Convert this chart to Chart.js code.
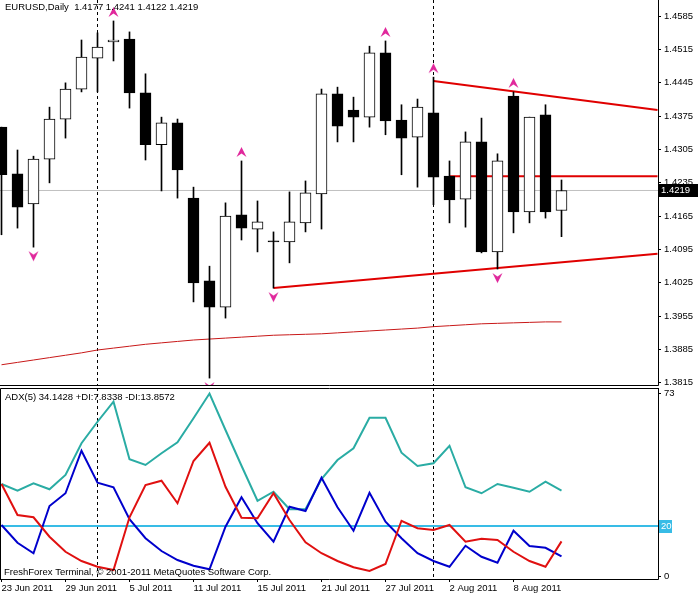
<!DOCTYPE html>
<html><head><meta charset="utf-8">
<script src="https://cdn.jsdelivr.net/npm/chart.js@4.4.0/dist/chart.umd.min.js"></script>
<style>
html,body{margin:0;padding:0;background:#fff;}
#wrap{position:relative;width:698px;height:597px;overflow:hidden;}
canvas{position:absolute;left:0;}
#main{top:0;}
#adx{top:387px;}
</style></head><body>
<div id="wrap"><canvas id="main" width="698" height="387"></canvas><canvas id="adx" width="698" height="210"></canvas></div>
<script>
// EURUSD daily bars
const dates=["23 Jun 2011","24 Jun 2011","27 Jun 2011","28 Jun 2011","29 Jun 2011","30 Jun 2011","1 Jul 2011","4 Jul 2011","5 Jul 2011","6 Jul 2011","7 Jul 2011","8 Jul 2011","11 Jul 2011","12 Jul 2011","13 Jul 2011","14 Jul 2011","15 Jul 2011","18 Jul 2011","19 Jul 2011","20 Jul 2011","21 Jul 2011","22 Jul 2011","25 Jul 2011","26 Jul 2011","27 Jul 2011","28 Jul 2011","29 Jul 2011","1 Aug 2011","2 Aug 2011","3 Aug 2011","4 Aug 2011","5 Aug 2011","8 Aug 2011","9 Aug 2011","10 Aug 2011","11 Aug 2011"];
const open=[1.4352,1.4254,1.4191,1.4285,1.4369,1.4432,1.4497,1.4531,1.4537,1.4424,1.4315,1.4361,1.4203,1.4029,1.3974,1.4168,1.4138,1.4111,1.4111,1.4151,1.4212,1.4422,1.4388,1.4373,1.4508,1.4367,1.4331,1.4382,1.4249,1.4201,1.4321,1.4090,1.4417,1.4174,1.4378,1.4177];
const high=[1.4352,1.4304,1.4291,1.4394,1.4445,1.4535,1.4550,1.4575,1.4552,1.4464,1.4373,1.4369,1.4226,1.4060,1.4193,1.4281,1.4197,1.4132,1.4216,1.4239,1.4432,1.4436,1.4415,1.4522,1.4533,1.4399,1.4411,1.4457,1.4281,1.4342,1.4371,1.4296,1.4426,1.4373,1.4399,1.4241];
const low=[1.4126,1.4140,1.4100,1.4235,1.4329,1.4426,1.4426,1.4491,1.4392,1.4283,1.4218,1.4203,1.3985,1.3825,1.3951,1.4115,1.4090,1.4014,1.4067,1.4132,1.4138,1.4321,1.4321,1.4352,1.4336,1.4252,1.4226,1.4189,1.4151,1.4142,1.4088,1.4054,1.4130,1.4151,1.4161,1.4122];
const close=[1.4252,1.4184,1.4285,1.4369,1.4432,1.4499,1.4520,1.4535,1.4424,1.4315,1.4361,1.4262,1.4025,1.3974,1.4165,1.4140,1.4153,1.4112,1.4153,1.4214,1.4422,1.4354,1.4373,1.4508,1.4365,1.4329,1.4394,1.4247,1.4199,1.4321,1.4090,1.4281,1.4174,1.4373,1.4174,1.4219];
const ma=[1.3853,1.3858,1.3863,1.3868,1.3873,1.3878,1.3884,1.3888,1.3892,1.3896,1.3899,1.3902,1.3905,1.3907,1.3909,1.3911,1.3913,1.3915,1.3916,1.3917,1.3918,1.3920,1.3922,1.3924,1.3926,1.3928,1.3930,1.3933,1.3935,1.3937,1.3939,1.3940,1.3941,1.3942,1.3943,1.3943];
const fractalUp=[7,15,24,27,32];
const fractalDown=[2,13,17,31];
const upperTrend=[[27,1.4449],[41,1.4388]];
const levelLine=[[28,1.4249],[41,1.4249]];
const lowerTrend=[[17,1.4014],[41,1.4086]];
const priceTicks=[1.3815,1.3885,1.3955,1.4025,1.4095,1.4165,1.4235,1.4305,1.4375,1.4445,1.4515,1.4585];
const sepIdx=[6,27];
const dateTicks=[0,4,8,12,16,20,24,28,32];

// ADX(5)
const adx=[36.8,34.1,37.1,34.7,40.4,53.1,61.7,69.7,46.7,44.4,49.1,53.5,63.1,73.0,58.4,44.1,30.1,33.7,26.7,26.7,38.8,46.4,51.1,63.3,63.3,49.3,44.0,45.1,52.1,35.5,33.1,36.8,35.3,33.7,37.7,34.1428];
const plusDI=[20.4,13.3,9.1,28.0,33.1,50.1,37.3,35.5,22.7,15.1,10.0,6.4,4.1,2.7,19.7,31.5,21.1,13.7,27.7,26.0,39.3,27.5,18.1,33.3,21.7,15.1,9.1,6.0,3.7,12.1,7.7,5.3,18.1,12.0,11.3,7.8338];
const minusDI=[36.8,24.4,23.5,15.7,9.7,6.0,3.7,2.4,23.5,36.4,38.1,29.1,46.0,53.3,35.7,23.3,23.1,33.1,22.4,13.5,9.1,6.0,3.5,2.0,4.8,22.1,19.1,18.4,20.4,13.7,14.9,14.4,9.7,6.0,3.7,13.8572];
const adxLevel=20;
const adxTicks=[0,73];

const XMIN=-0.09375, XMAX=41.03125;
const FONT='Liberation Sans';
const last=close.length-1;
Chart.defaults.font.family=FONT;
Chart.defaults.font.size=9.5;
Chart.defaults.color='#000';

function arrow(up){
const c=document.createElement('canvas');c.width=11;c.height=30;
const g=c.getContext('2d');g.fillStyle='#e0289c';g.beginPath();
if(up){g.moveTo(5.5,1);g.lineTo(10.5,11);g.lineTo(5.5,7.5);g.lineTo(0.5,11);}
else{g.moveTo(5.5,29);g.lineTo(10.5,19);g.lineTo(5.5,22.5);g.lineTo(0.5,19);}
g.closePath();g.fill();return c;
}
const seg=(pts)=>pts.map(p=>({x:p[0],y:p[1]}));
const flat=(v)=>[{x:XMIN,y:v},{x:XMAX,y:v}];
const series=(arr)=>arr.map((v,i)=>({x:i,y:v}));
const noPad=s=>{s.paddingTop=0;s.paddingBottom=0;s.paddingLeft=0;s.paddingRight=0;};
// white body for up bars, black for down bars and dojis
const bodyColor=open.map((o,i)=>close[i]-o>0.0002?'#fff':'#000');

const separators={id:'separators',beforeDatasetsDraw(ch){
const {ctx,chartArea:a,scales:{x}}=ch;ctx.save();ctx.strokeStyle='#000';ctx.lineWidth=1;ctx.setLineDash([3,3]);
sepIdx.forEach(i=>{const px=Math.floor(x.getPixelForValue(i))+0.5;ctx.beginPath();ctx.moveTo(px,a.top);ctx.lineTo(px,a.bottom);ctx.stroke();});
ctx.restore();}};

function frame(sides){return {id:'frame',afterDraw(ch){
const {ctx,chartArea:a}=ch;ctx.save();ctx.strokeStyle='#000';ctx.lineWidth=1;ctx.beginPath();
const l=0.5,r=Math.round(a.right)+0.5,t=Math.round(a.top)+0.5,b=Math.round(a.bottom)+0.5;
if(sides.includes('l')){ctx.moveTo(l,t);ctx.lineTo(l,b);}
if(sides.includes('t')){ctx.moveTo(l,t);ctx.lineTo(r,t);}
if(sides.includes('r')){ctx.moveTo(r,a.top);ctx.lineTo(r,b);}
if(sides.includes('b')){ctx.moveTo(0,b);ctx.lineTo(r,b);}
ctx.stroke();ctx.restore();}};}

function texts(items){return {id:'texts',afterDraw(ch){
const ctx=ch.ctx;ctx.save();ctx.font='9.5px '+FONT;ctx.fillStyle='#000';ctx.textBaseline='middle';ctx.textAlign='left';
items.forEach(t=>ctx.fillText(t[0],t[1],t[2]));ctx.restore();}};}

function boxLabel(value,text,bg,w,scaleId){return {id:'box'+text,afterDraw(ch){
const ctx=ch.ctx,y=ch.scales[scaleId].getPixelForValue(value),x=Math.round(ch.chartArea.right)+1;
ctx.save();ctx.fillStyle=bg;ctx.fillRect(x,Math.round(y)-6,w,13);
ctx.fillStyle='#fff';ctx.font='9.5px '+FONT;ctx.textBaseline='middle';ctx.textAlign='left';ctx.fillText(text,x+2,Math.round(y)+0.5);ctx.restore();}};}

new Chart(document.getElementById('main'),{
type:'bar',
data:{datasets:[
{type:'line',data:flat(close[last]),borderColor:'#c0c0c0',borderWidth:1,pointRadius:0,order:10},
{type:'line',data:series(ma),borderColor:'#c81818',borderWidth:1,pointRadius:0,order:9},
{type:'line',data:seg(upperTrend),borderColor:'#e00000',borderWidth:2,pointRadius:0,order:8},
{type:'line',data:seg(levelLine),borderColor:'#e00000',borderWidth:2,pointRadius:0,order:8},
{type:'line',data:seg(lowerTrend),borderColor:'#e00000',borderWidth:2,pointRadius:0,order:8},
{data:low.map((l,i)=>({x:i,y:[l,high[i]]})),backgroundColor:'#000',borderWidth:0,barThickness:1,grouped:false,order:5},
{data:open.map((o,i)=>({x:i,y:[o,close[i]]})),backgroundColor:bodyColor,borderColor:'#000',borderWidth:1,borderSkipped:false,barThickness:11,minBarLength:1,grouped:false,order:4},
{type:'scatter',data:fractalUp.map(i=>({x:i,y:high[i]})),pointStyle:arrow(true),pointRadius:5,order:1},
{type:'scatter',data:fractalDown.map(i=>({x:i,y:low[i]})),pointStyle:arrow(false),pointRadius:5,order:1}
]},
options:{responsive:false,animation:false,events:[],
layout:{autoPadding:false,padding:{left:0,right:0,top:0,bottom:2}},
plugins:{legend:{display:false},tooltip:{enabled:false}},
scales:{
x:{type:'linear',min:XMIN,max:XMAX,offset:false,display:false,afterFit:noPad},
y:{position:'right',min:1.38105,max:1.4619,
afterBuildTicks:s=>{s.ticks=priceTicks.map(v=>({value:v}));},
afterFit:s=>{s.width=40;noPad(s);},
ticks:{callback:v=>v.toFixed(4),padding:3,color:'#000'},
grid:{drawOnChartArea:false,tickLength:3,color:'#000'},border:{display:false}}
}},
plugins:[separators,frame('rb'),
texts([['EURUSD,Daily  '+[open[last],high[last],low[last],close[last]].map(v=>v.toFixed(4)).join(' '),5,7]]),
boxLabel(close[last],close[last].toFixed(4),'#000',39,'y')]
});

new Chart(document.getElementById('adx'),{
type:'line',
data:{datasets:[
{data:flat(adxLevel),borderColor:'#38bce6',borderWidth:2,pointRadius:0,order:5},
{data:series(adx),borderColor:'#2aaca4',borderWidth:2,pointRadius:0,order:3},
{data:series(plusDI),borderColor:'#0000cc',borderWidth:2,pointRadius:0,order:2},
{data:series(minusDI),borderColor:'#e01010',borderWidth:2,pointRadius:0,order:1}
]},
options:{responsive:false,animation:false,events:[],
layout:{autoPadding:false,padding:{left:0,right:0,top:1,bottom:0}},
plugins:{legend:{display:false},tooltip:{enabled:false}},
scales:{
x:{type:'linear',min:XMIN,max:XMAX,offset:false,
afterBuildTicks:s=>{s.ticks=dateTicks.map(v=>({value:v}));},
afterFit:s=>{s.height=18;noPad(s);},
ticks:{callback:v=>dates[v],align:'start',maxRotation:0,autoSkip:false,padding:1,color:'#000'},
grid:{drawOnChartArea:false,tickLength:3,color:'#000'},border:{display:false}},
y:{position:'right',min:-1.2,max:75.2,
afterBuildTicks:s=>{s.ticks=adxTicks.map(v=>({value:v}));},
afterFit:s=>{s.width=40;noPad(s);},
ticks:{callback:v=>String(v),padding:3,color:'#000'},
grid:{drawOnChartArea:false,tickLength:3,color:'#000'},border:{display:false}}
}},
plugins:[separators,frame('ltrb'),
texts([['ADX(5) '+adx[last].toFixed(4)+' +DI:'+plusDI[last].toFixed(4)+' -DI:'+minusDI[last].toFixed(4),5,10],
['FreshForex Terminal, \u00a9 2001-2011 MetaQuotes Software Corp.',4,185]]),
boxLabel(adxLevel,String(adxLevel),'#38bce6',13,'y')]
});
</script>
</body></html>
